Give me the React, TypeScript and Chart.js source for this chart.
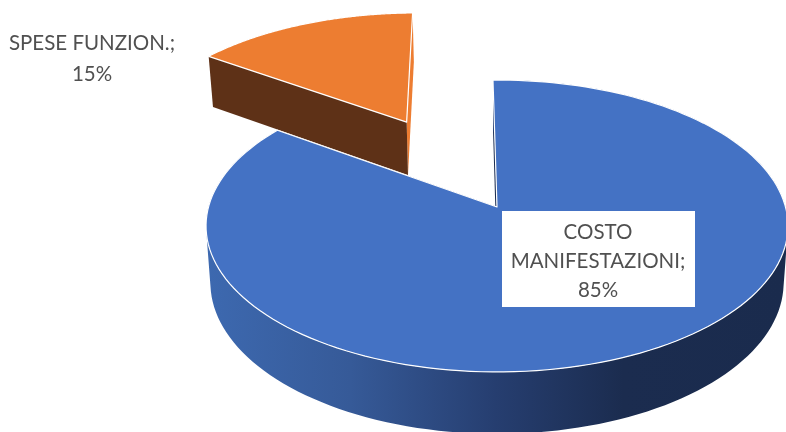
import { useEffect, useRef } from "react";
import { Chart, registerables } from "chart.js";

Chart.register(...registerables);

// Shares of the total budget, in percent.
const categories = ["COSTO MANIFESTAZIONI", "SPESE FUNZION."];
const shares = [85, 15];
const sliceColors = ["#4472C4", "#ED7D31"];
const sideColors = ["#1C2E52", "#5E3117"];
// How far each slice is pulled out of the pie, as a fraction of its radius.
const explode = [0, 0.725];
// Lines of each data label.
const labelLines = [
  ["COSTO", "MANIFESTAZIONI;", "85%"],
  ["SPESE FUNZION.;", "15%"],
];

// Perspective camera used to lay the round pie on a receding plane.
const camera = { x: 497, y: 207, a: 288.5, b: 143.5, p: 0.13, shrink: 0.985, depth: 56 };

type Pt = [number, number];

// Disc coordinates (unit radius, v pointing to the back) to canvas pixels.
function top(u: number, v: number): Pt {
  const w = 1 + camera.p * v;
  return [camera.x + (camera.a * u) / w, camera.y - (camera.b * v) / w];
}
function bottom(u: number, v: number): Pt {
  const w = 1 + camera.p * v;
  return [
    camera.x + (camera.shrink * camera.a * u) / w,
    camera.y + (-camera.shrink * camera.b * v + camera.depth) / w,
  ];
}

function trace(ctx: CanvasRenderingContext2D, pts: Pt[]) {
  ctx.beginPath();
  addLoop(ctx, pts);
}

function addLoop(ctx: CanvasRenderingContext2D, pts: Pt[]) {
  pts.forEach(([x, y], i) => (i ? ctx.lineTo(x, y) : ctx.moveTo(x, y)));
  ctx.closePath();
}

// Twice the signed area, used to give all wall strips the same winding.
function area(pts: Pt[]) {
  let sum = 0;
  pts.forEach(([x, y], i) => {
    const [nx, ny] = pts[(i + 1) % pts.length];
    sum += x * ny - nx * y;
  });
  return sum;
}

const tiltedPie = {
  id: "tiltedPie",
  beforeDatasetsDraw(chart: any) {
    const { ctx } = chart;
    const arcs = chart.getDatasetMeta(0).data;
    // Back slice first, so the large slice overlaps its base.
    [1, 0].forEach((i) => {
      const { startAngle, endAngle } = arcs[i].getProps(["startAngle", "endAngle"], true);
      const mid = (startAngle + endAngle) / 2;
      const ou = Math.cos(mid) * explode[i];
      const ov = -Math.sin(mid) * explode[i];
      const rim: [number, number][] = [];
      const steps = 160;
      for (let s = 0; s <= steps; s++) {
        const a = startAngle + ((endAngle - startAngle) * s) / steps;
        rim.push([ou + Math.cos(a), ov - Math.sin(a)]);
      }
      const first = rim[0];
      const last = rim[rim.length - 1];

      // Cut faces running from the centre to the rim.
      ctx.fillStyle = i === 0 ? sideColors[i] : sliceColors[i];
      trace(ctx, [top(ou, ov), top(last[0], last[1]), bottom(last[0], last[1]), bottom(ou, ov)]);
      ctx.fill();
      ctx.fillStyle = sideColors[i];
      trace(ctx, [top(ou, ov), top(first[0], first[1]), bottom(first[0], first[1]), bottom(ou, ov)]);
      ctx.fill();

      // Outer wall, shaded from left to right: one path of same-wound strips.
      if (i === 0) {
        const g = ctx.createLinearGradient(205, 0, 786, 0);
        g.addColorStop(0, "#3D69B0");
        g.addColorStop(0.25, "#365A98");
        g.addColorStop(0.5, "#263E70");
        g.addColorStop(0.72, "#1B2C4F");
        g.addColorStop(1, "#1A2B4D");
        ctx.fillStyle = g;
        ctx.beginPath();
        for (let s = 0; s < rim.length - 1; s++) {
          const [u0, v0] = rim[s];
          const [u1, v1] = rim[s + 1];
          const strip: Pt[] = [top(u0, v0), top(u1, v1), bottom(u1, v1), bottom(u0, v0)];
          addLoop(ctx, area(strip) < 0 ? strip.reverse() : strip);
        }
        ctx.fill();
      }

      // Top face.
      ctx.fillStyle = sliceColors[i];
      ctx.strokeStyle = "#FFFFFF";
      ctx.lineWidth = 1.2;
      ctx.lineJoin = "round";
      trace(ctx, [top(ou, ov), ...rim.map(([u, v]) => top(u, v))]);
      ctx.fill();
      ctx.stroke();
    });
    return false;
  },
  afterDraw(chart: any) {
    const { ctx } = chart;
    ctx.save();
    // White plate behind the label that sits on the large slice.
    ctx.fillStyle = "#FFFFFF";
    ctx.fillRect(502, 211, 193, 96);
    ctx.fillStyle = "#505050";
    ctx.font = "20.5px Lato";
    ctx.textAlign = "center";
    ctx.textBaseline = "middle";
    const anchors: { x: number; y: number; step: number }[] = [
      { x: 598, y: 232, step: 29 },
      { x: 92, y: 43, step: 31 },
    ];
    labelLines.forEach((lines, i) => {
      lines.forEach((line, n) => {
        ctx.fillText(line, anchors[i].x, anchors[i].y + n * anchors[i].step);
      });
    });
    ctx.restore();
  },
};

export default function App() {
  const ref = useRef<HTMLCanvasElement>(null);
  useEffect(() => {
    const chart = new Chart(ref.current!, {
      type: "pie",
      data: {
        labels: categories,
        datasets: [{ data: shares, backgroundColor: sliceColors, borderWidth: 0 }],
      },
      options: {
        animation: false,
        responsive: false,
        rotation: -0.9,
        plugins: { legend: { display: false }, tooltip: { enabled: false } },
      },
      plugins: [tiltedPie],
    });
    return () => chart.destroy();
  }, []);
  return (
    <div style={{ position: "absolute", left: 0, top: 0, width: 786, height: 432, overflow: "hidden", background: "#fff" }}>
      <canvas ref={ref} width={786} height={432} style={{ display: "block" }} />
    </div>
  );
}
